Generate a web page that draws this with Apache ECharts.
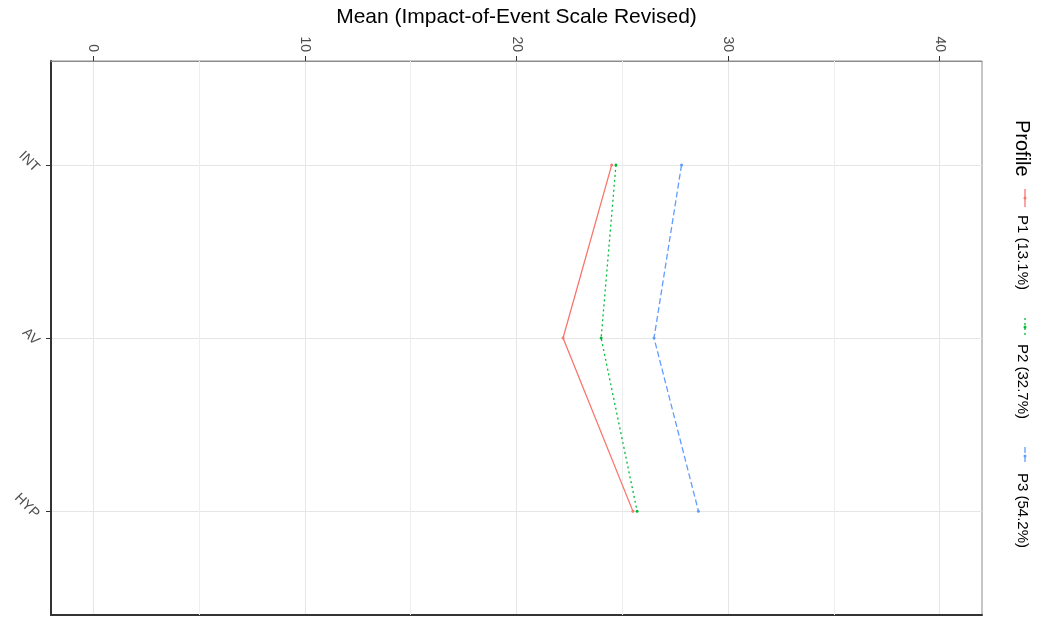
<!DOCTYPE html>
<html>
<head>
<meta charset="utf-8">
<script src="https://cdn.jsdelivr.net/npm/echarts@6/dist/echarts.min.js"></script>
<style>
  html, body { margin: 0; padding: 0; background: #fff; }
  #chart { width: 1044px; height: 618px; }
</style>
</head>
<body>
<div id="chart"></div>
<script>
const categories = ['INT', 'AV', 'HYP']
const profileNames = ['P1 (13.1%)', 'P2 (32.7%)', 'P3 (54.2%)']
const p1 = [24.5, 22.2, 25.5]
const p2 = [24.7, 24.0, 25.7]
const p3 = [27.8, 26.5, 28.6]
const majorTicks = [0, 10, 20, 30, 40]
const minorTicks = [5, 15, 25, 35]
const catPos = [1, 2, 3]

const colors = ['#F8766D', '#00BA38', '#619CFF']
const dashes = ['solid', [2, 3], [6, 3]]
const font = 'Liberation Sans, Arial, sans-serif'

const chart = echarts.init(document.getElementById('chart'))

// pair each value with its category position (1, 2, 3)
function toPoints(vals) {
    return vals.map(function (v, i) { return [v, catPos[i]] })
}

const lineSeries = [p1, p2, p3].map(function (vals, k) {
    return {
        name: profileNames[k],
        type: 'line',
        data: toPoints(vals),
        symbol: 'circle',
        symbolSize: 3,
        z: 3,
        itemStyle: {color: colors[k]},
        lineStyle: {color: colors[k], width: 1.3, type: dashes[k]}
    }
})

// legend drawn rotated, like the reference
const legendChildren = [{
    type: 'text', x: 120, y: 0,
    style: {text: 'Profile', font: '20px ' + font, fill: '#000', verticalAlign: 'middle', align: 'left'}
}]
profileNames.forEach(function (name, k) {
    const keyAt = 198 + k * 129
    legendChildren.push({
        type: 'line',
        shape: {x1: keyAt - 9, y1: -3, x2: keyAt + 9, y2: -3},
        style: {stroke: colors[k], lineWidth: 1.3, lineDash: k === 0 ? null : dashes[k]}
    })
    legendChildren.push({
        type: 'circle', shape: {cx: keyAt, cy: -3, r: 1.5},
        style: {fill: colors[k]}
    })
    legendChildren.push({
        type: 'text', x: keyAt + 17, y: 0,
        style: {text: name, font: '15px ' + font, fill: '#000', verticalAlign: 'middle', align: 'left'}
    })
})

const option = {
    backgroundColor: '#fff',
    animation: false,
    textStyle: {fontFamily: font},
    grid: {
        left: 51, right: 62, top: 61, bottom: 3,
        show: true, borderColor: '#8c8c8c', borderWidth: 1
    },
    xAxis: [
        {
            type: 'value',
            position: 'top',
            min: -2,
            max: 42,
            name: 'Mean (Impact-of-Event Scale Revised)',
            nameLocation: 'middle',
            nameGap: 33,
            nameTextStyle: {fontSize: 21, color: '#000', fontFamily: font},
            axisLine: {show: true, lineStyle: {color: '#8c8c8c', width: 1}},
            axisTick: {show: true, length: 5, customValues: majorTicks, lineStyle: {color: '#333', width: 1}},
            axisLabel: {
                customValues: majorTicks,
                rotate: 90,
                margin: 9,
                fontSize: 14,
                color: '#4d4d4d',
                fontFamily: font
            },
            splitLine: {show: true, lineStyle: {color: '#e6e6e6', width: 1}}
        },
        {
            type: 'value',
            position: 'bottom',
            min: -2,
            max: 42,
            axisLine: {show: true, onZero: false, lineStyle: {color: '#333', width: 2}},
            axisTick: {show: false},
            axisLabel: {show: false},
            splitLine: {show: false}
        }
    ],
    yAxis: {
        type: 'value',
        inverse: true,
        min: 0.4,
        max: 3.6,
        axisLine: {show: true, onZero: false, lineStyle: {color: '#333', width: 2}},
        axisTick: {show: true, length: 5, customValues: catPos, lineStyle: {color: '#333', width: 1}},
        axisLabel: {
            customValues: catPos,
            rotate: -45,
            margin: 9,
            verticalAlign: 'top',
            fontSize: 14,
            color: '#4d4d4d',
            fontFamily: font,
            formatter: function (v) { return categories[Math.round(v) - 1] }
        },
        splitLine: {show: true, lineStyle: {color: '#e6e6e6', width: 1}}
    },
    graphic: [{
        type: 'group',
        x: 1022,
        y: 0,
        rotation: -Math.PI / 2,
        children: legendChildren
    }],
    series: [{
        type: 'line',
        data: [],
        z: 1,
        silent: true,
        markLine: {
            silent: true,
            z: 1,
            symbol: 'none',
            label: {show: false},
            lineStyle: {color: '#eeeeee', width: 1, type: 'solid'},
            data: minorTicks.map(function (v) { return {xAxis: v} })
        }
    }].concat(lineSeries)
}

chart.setOption(option)
</script>
</body>
</html>
